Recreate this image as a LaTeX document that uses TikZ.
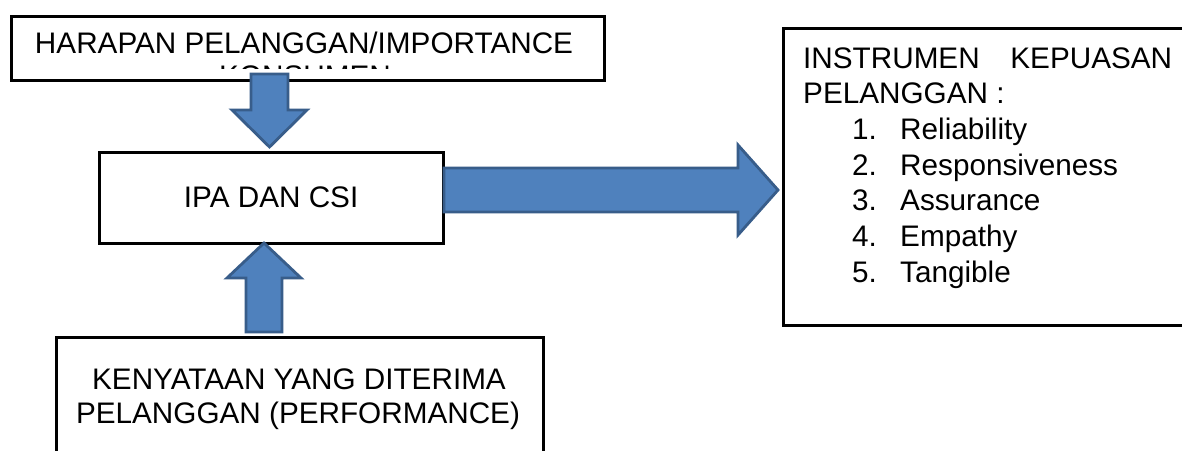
\documentclass[tikz,border=0pt]{standalone}
\usepackage{fontspec}
\setmainfont{Liberation Sans}
\definecolor{arrfill}{HTML}{4F81BD}
\definecolor{arrline}{HTML}{385D8A}
\begin{document}
\begin{tikzpicture}[x=1pt,y=-1pt,
  box/.style={draw=black,line width=3.2pt,inner sep=0pt,anchor=north west},
  blockarrow/.style={fill=arrfill,draw=arrline,line width=2.8pt,line join=miter},
  txt/.style={inner sep=0pt,font=\fontsize{29.7}{34}\selectfont}]
\useasboundingbox (0,0) rectangle (1182,450);
\fill[white] (0,0) rectangle (1182,450);
% top box
\node[box,minimum width=593pt,minimum height=64pt] (harapan) at (9.5,14.5) {};
\begin{scope}
  \clip (11,16) rectangle (601,68.5);
  \node[txt,anchor=base] (harapantxt) at (304,53) {HARAPAN PELANGGAN/IMPORTANCE};
  \node[txt,anchor=base] (konsumen) at (305,86) {KONSUMEN};
\end{scope}
% middle box
\node[box,minimum width=344pt,minimum height=91pt,font=\fontsize{29.7}{34}\selectfont] (ipa) at (97.5,150.5) {IPA DAN CSI};
% right box
\node[box,minimum width=420pt,minimum height=297pt] (instrumen) at (781.5,26.5) {};
\node[txt,anchor=base west] (instrumentxt) at (803,68) {\parbox[t]{369pt}{\fontsize{29.7}{35.7}\selectfont
INSTRUMEN\hfill KEPUASAN\\
PELANGGAN :\\
\hspace*{49pt}\makebox[48pt][l]{1.}Reliability\\
\hspace*{49pt}\makebox[48pt][l]{2.}Responsiveness\\
\hspace*{49pt}\makebox[48pt][l]{3.}Assurance\\
\hspace*{49pt}\makebox[48pt][l]{4.}Empathy\\
\hspace*{49pt}\makebox[48pt][l]{5.}Tangible}};
% bottom box
\node[box,minimum width=487pt,minimum height=130pt] (kenyataan) at (54.5,335.5) {};
\node[txt,anchor=base] (kenyataan1) at (299,389) {KENYATAAN YANG DITERIMA};
\node[txt,anchor=base] (kenyataan2) at (298,423) {PELANGGAN (PERFORMANCE)};
% block arrows
\draw[blockarrow] (251,74) -- (288,74) -- (288,110) -- (307,110) -- (269.5,147) -- (232,110) -- (251,110) -- cycle;
\draw[blockarrow] (444,168) -- (738,168) -- (738,145) -- (778,190) -- (738,235) -- (738,212) -- (444,212) -- cycle;
\draw[blockarrow] (246,332) -- (246,278) -- (227,278) -- (264,243) -- (301,278) -- (282,278) -- (282,332) -- cycle;
\end{tikzpicture}
\end{document}
